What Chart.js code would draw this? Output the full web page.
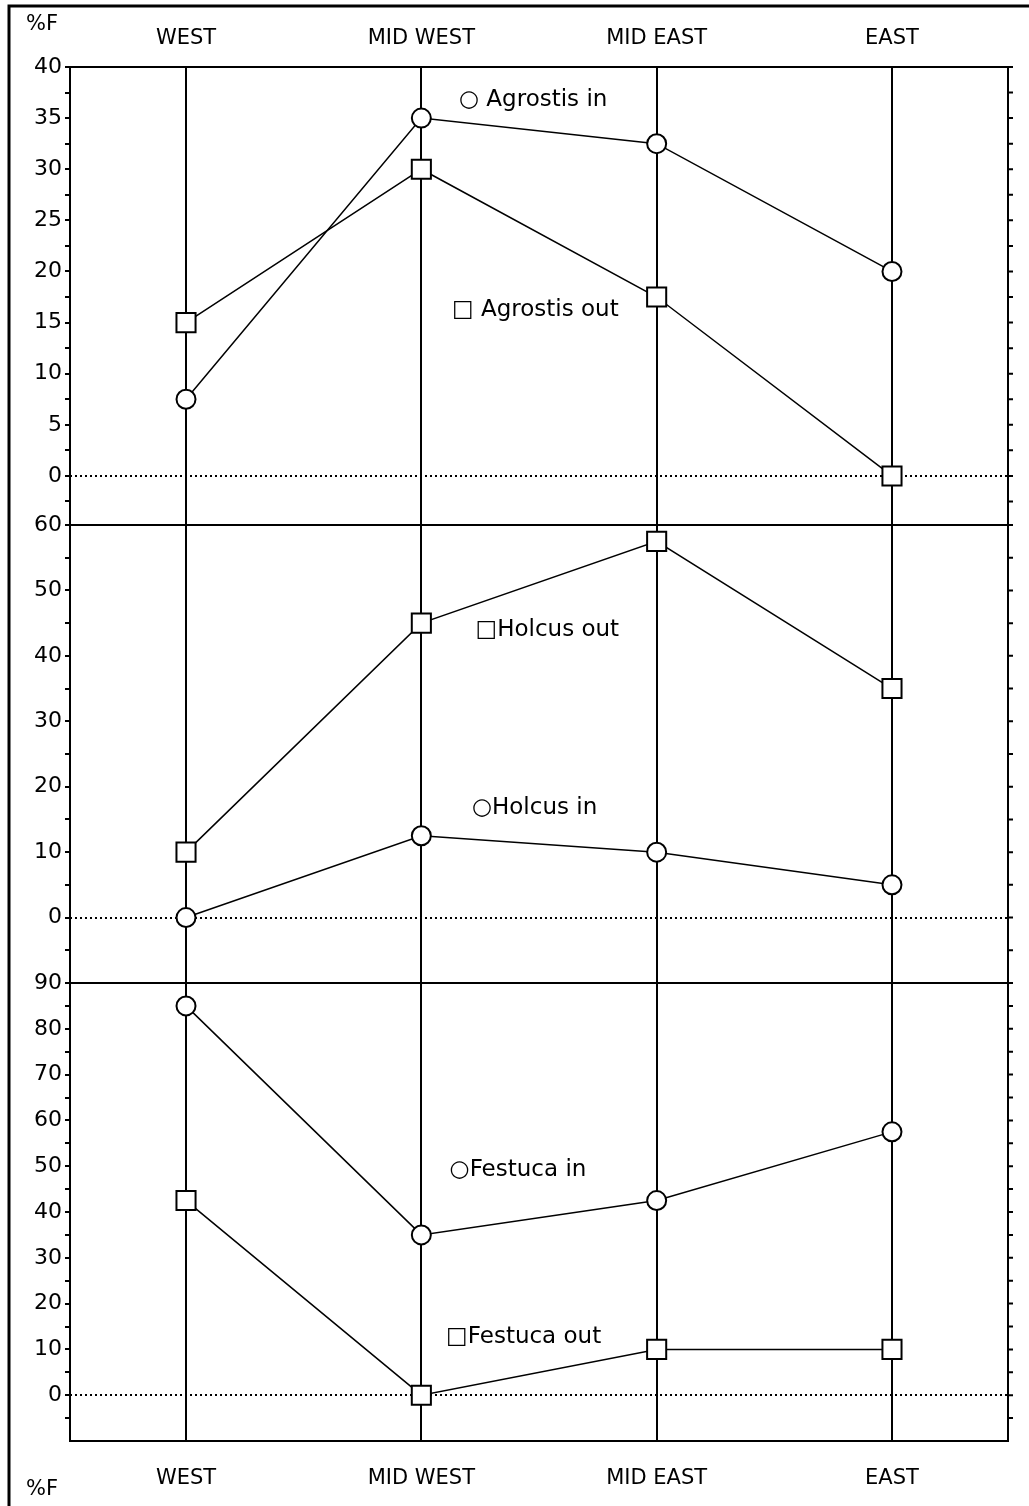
<!DOCTYPE html>
<html lang="en">
<head>
<meta charset="UTF-8">
<title>%F by site</title>
<script src="https://cdn.jsdelivr.net/npm/chart.js"></script>
<style>
  body { margin: 0; background: #fff; }
  #wrap { position: relative; width: 1029px; height: 1506px; }
</style>
</head>
<body>
<div id="wrap"><canvas id="chart" width="1029" height="1506"></canvas></div>
<script>
// categories along the transect
const sites = ['WEST', 'MID WEST', 'MID EAST', 'EAST'];

// %F values
const agrostisIn  = [7.5, 35, 32.5, 20];
const agrostisOut = [15, 30, 17.5, 0];
const holcusOut   = [10, 45, 57.5, 35];
const holcusIn    = [0, 12.5, 10, 5];
const festucaIn   = [85, 35, 42.5, 57.5];
const festucaOut  = [42.5, 0, 10, 10];

// labelled ticks of each panel
const agrostisTicks = [0, 5, 10, 15, 20, 25, 30, 35, 40];
const holcusTicks   = [0, 10, 20, 30, 40, 50, 60];
const festucaTicks  = [0, 10, 20, 30, 40, 50, 60, 70, 80, 90];

// text notes next to the lines (value coords)
const notes = [
  { text: '\u25CB Agrostis in',  axis: 'y1', x: 1.16, y: 36.8 },
  { text: '\u25A1 Agrostis out', axis: 'y1', x: 1.13, y: 16.2 },
  { text: '\u25A1Holcus out',    axis: 'y2', x: 1.23, y: 44.0 },
  { text: '\u25CBHolcus in',     axis: 'y2', x: 1.215, y: 16.7 },
  { text: '\u25CBFestuca in',    axis: 'y3', x: 1.12, y: 49.1 },
  { text: '\u25A1Festuca out',   axis: 'y3', x: 1.105, y: 12.8 }
];

const FONT = "'DejaVu Sans', sans-serif";

function pts(arr) {
  return arr.map((v, i) => ({ x: i, y: v }));
}

function panelAxis(labelled, min, max) {
  const step = labelled[1] - labelled[0];
  return {
    type: 'linear', position: 'left', stack: 'panels', stackWeight: 1,
    min: min, max: max,
    afterBuildTicks: s => {
      const vals = labelled.concat(labelled.map(v => v - step / 2)).filter(v => v >= min && v <= max);
      vals.sort((a, b) => a - b);
      s.ticks = vals.map(v => ({ value: v }));
    },
    afterFit: s => { s.width = 70; },
    ticks: {
      autoSkip: false, padding: 3, color: '#000',
      font: { family: FONT, size: 22 },
      callback: v => labelled.includes(v) ? String(v) : ''
    },
    grid: { drawOnChartArea: false, drawTicks: true, tickLength: 5, color: '#000', lineWidth: 2 },
    border: { display: true, color: '#000', width: 2 }
  };
}

function series(data, axis, style) {
  return {
    data: pts(data), yAxisID: axis, xAxisID: 'x',
    showLine: true, borderColor: '#000', borderWidth: 1.5,
    pointStyle: style, pointRadius: style === 'rect' ? 13.5 : 9.5,
    pointBackgroundColor: '#fff', pointBorderColor: '#000', pointBorderWidth: 2,
    clip: false
  };
}

const framePlugin = {
  id: 'frame',
  beforeDraw(chart) {
    const ctx = chart.ctx;
    ctx.save();
    ctx.fillStyle = '#fff';
    ctx.fillRect(0, 0, chart.width, chart.height);
    ctx.strokeStyle = '#000';
    ctx.lineWidth = 3;
    ctx.beginPath();
    ctx.moveTo(9, chart.height);
    ctx.lineTo(9, 6);
    ctx.lineTo(chart.width, 6);
    ctx.stroke();
    ctx.fillStyle = '#000';
    ctx.font = '21px ' + FONT;
    ctx.textBaseline = 'middle';
    ctx.textAlign = 'left';
    ctx.fillText('%F', 26, 25);
    ctx.fillText('%F', 26, 1490);
    ctx.restore();
  },
  beforeDatasetsDraw(chart) {
    const ctx = chart.ctx;
    const a = chart.chartArea;
    ctx.save();
    ctx.strokeStyle = '#000';
    ctx.lineWidth = 2;
    ctx.setLineDash([2, 3]);
    ['y1', 'y2', 'y3'].forEach(id => {
      const y = Math.round(chart.scales[id].getPixelForValue(0));
      ctx.beginPath();
      ctx.moveTo(a.left, y);
      ctx.lineTo(a.right, y);
      ctx.stroke();
    });
    ctx.restore();
  },
  afterDraw(chart) {
    const ctx = chart.ctx;
    const a = chart.chartArea;
    ctx.save();
    ctx.strokeStyle = '#000';
    ctx.lineWidth = 2;
    ctx.beginPath();
    ['y2', 'y3'].forEach(id => {
      const y = chart.scales[id].top;
      ctx.moveTo(a.left, y);
      ctx.lineTo(a.right, y);
    });
    ctx.moveTo(a.right, a.top);
    ctx.lineTo(a.right, a.bottom);
    // right-hand tick marks
    ['y1', 'y2', 'y3'].forEach(id => {
      const s = chart.scales[id];
      s.ticks.forEach(t => {
        const y = s.getPixelForValue(t.value);
        ctx.moveTo(a.right, y);
        ctx.lineTo(a.right + 5, y);
      });
    });
    ctx.stroke();
    ctx.fillStyle = '#000';
    ctx.font = '23px ' + FONT;
    ctx.textBaseline = 'middle';
    ctx.textAlign = 'left';
    notes.forEach(n => {
      ctx.fillText(n.text, chart.scales.x.getPixelForValue(n.x), chart.scales[n.axis].getPixelForValue(n.y));
    });
    ctx.restore();
  }
};

const xCommon = {
  type: 'linear', min: -0.493, max: 3.493,
  afterBuildTicks: s => { s.ticks = sites.map((_, i) => ({ value: i })); },
  border: { display: true, color: '#000', width: 2 }
};

new Chart(document.getElementById('chart'), {
  type: 'scatter',
  data: {
    datasets: [
      series(agrostisIn, 'y1', 'circle'),
      series(agrostisOut, 'y1', 'rect'),
      series(holcusOut, 'y2', 'rect'),
      series(holcusIn, 'y2', 'circle'),
      series(festucaIn, 'y3', 'circle'),
      series(festucaOut, 'y3', 'rect')
    ]
  },
  options: {
    responsive: false,
    animation: false,
    layout: { padding: { left: 0, right: 21, top: 0, bottom: 0 } },
    plugins: { legend: { display: false }, tooltip: { enabled: false } },
    scales: {
      x: Object.assign({}, xCommon, {
        position: 'bottom', z: 1,
        afterFit: s => { s.height = 65; },
        ticks: { autoSkip: false, maxRotation: 0, padding: 25, color: '#000',
          font: { family: FONT, size: 21 }, callback: v => sites[v] },
        grid: { drawTicks: false, drawOnChartArea: true, color: '#000', lineWidth: 2 }
      }),
      x2: Object.assign({}, xCommon, {
        position: 'top',
        afterFit: s => { s.height = 67; },
        ticks: { autoSkip: false, maxRotation: 0, padding: 16, color: '#000',
          font: { family: FONT, size: 21 }, callback: v => sites[v] },
        grid: { display: false, drawTicks: false }
      }),
      // stacked panels: the first one listed sits at the bottom
      y3: panelAxis(festucaTicks, -10, 90),
      y2: panelAxis(holcusTicks, -10, 60),
      y1: panelAxis(agrostisTicks, -4.8, 40)
    }
  },
  plugins: [framePlugin]
});
</script>
</body>
</html>
